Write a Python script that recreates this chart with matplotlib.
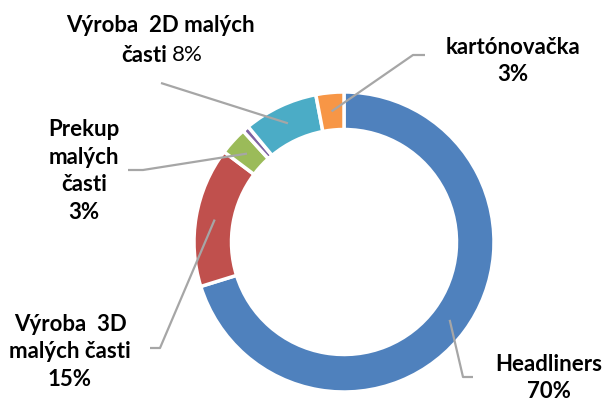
import numpy as np
import matplotlib
matplotlib.use('Agg')
import matplotlib.pyplot as plt

# slices in clockwise order starting at 12 o'clock
labels = ['Headliners', 'Výroba  3D\nmalých časti', 'Prekup\nmalých\nčasti', '', 'Výroba  2D malých', 'kartónovačka']
values = [70, 15, 3, 0.7, 8, 3]
pct_text = ['70%', '15%', '3%', '', '8%', '3%']
colors = ['#4F81BD', '#C0504D', '#9BBB59', '#8064A2', '#4BACC6', '#F79646']

W, H = 604, 401
CX, CY, R = 344, 242, 150  # donut centre / outer radius in pixels


def px(x, y):
    # pixel position (from top-left) -> data coords
    return (x - CX) / R, (CY - y) / R


fig = plt.figure(figsize=(W / 100, H / 100), dpi=100)
ax = fig.add_axes([0, 0, 1, 1])
wedges, _ = ax.pie(values, colors=colors, startangle=90, counterclock=False,
                   radius=1.0, wedgeprops=dict(width=0.25, edgecolor='white', linewidth=2.5))
ax.set_xlim(px(0, 0)[0], px(W, 0)[0])
ax.set_ylim(px(0, H)[1], px(0, 0)[1])
ax.set_aspect('equal')
ax.axis('off')

FONT = 'Lato'
FS = 16
GREY = '#A6A6A6'


def leader(i, pts):
    w = wedges[i]
    mid = np.deg2rad((w.theta1 + w.theta2) / 2)
    xs = [0.875 * np.cos(mid)] + [px(*p)[0] for p in pts]
    ys = [0.875 * np.sin(mid)] + [px(*p)[1] for p in pts]
    ax.plot(xs, ys, color=GREY, lw=1.6, solid_capstyle='butt', zorder=3)


# leader lines
leader(0, [(463, 377), (473, 377)])
leader(1, [(160, 348), (150, 348)])
leader(2, [(143, 170), (128, 170)])
leader(4, [(161, 83)])
leader(5, [(413, 55), (425, 55)])

# labels
kw = dict(ha='center', va='center', fontsize=FS, fontweight='bold', family=FONT, linespacing=1.38)
x, y = px(549, 378)
ax.text(x, y, labels[0] + '\n' + pct_text[0], **kw)
x, y = px(70, 352)
ax.text(x, y, labels[1] + '\n' + pct_text[1], **kw)
x, y = px(84, 171)
ax.text(x, y, labels[2] + '\n' + pct_text[2], **kw)
x, y = px(513, 61)
ax.text(x, y, labels[5] + '\n' + pct_text[5], **kw)
x, y = px(160, 25)
ax.text(x, y, labels[4], ha='center', va='center', fontsize=FS,
        fontweight='bold', family=FONT)
x, y = px(167, 55)
ax.text(x, y, 'časti', ha='right', va='center', fontsize=FS, fontweight='bold', family=FONT)
x, y = px(172, 55)
ax.text(x, y, pct_text[4], ha='left', va='center', fontsize=FS, family=FONT)

fig.savefig('out.png', dpi=100, facecolor='white')
